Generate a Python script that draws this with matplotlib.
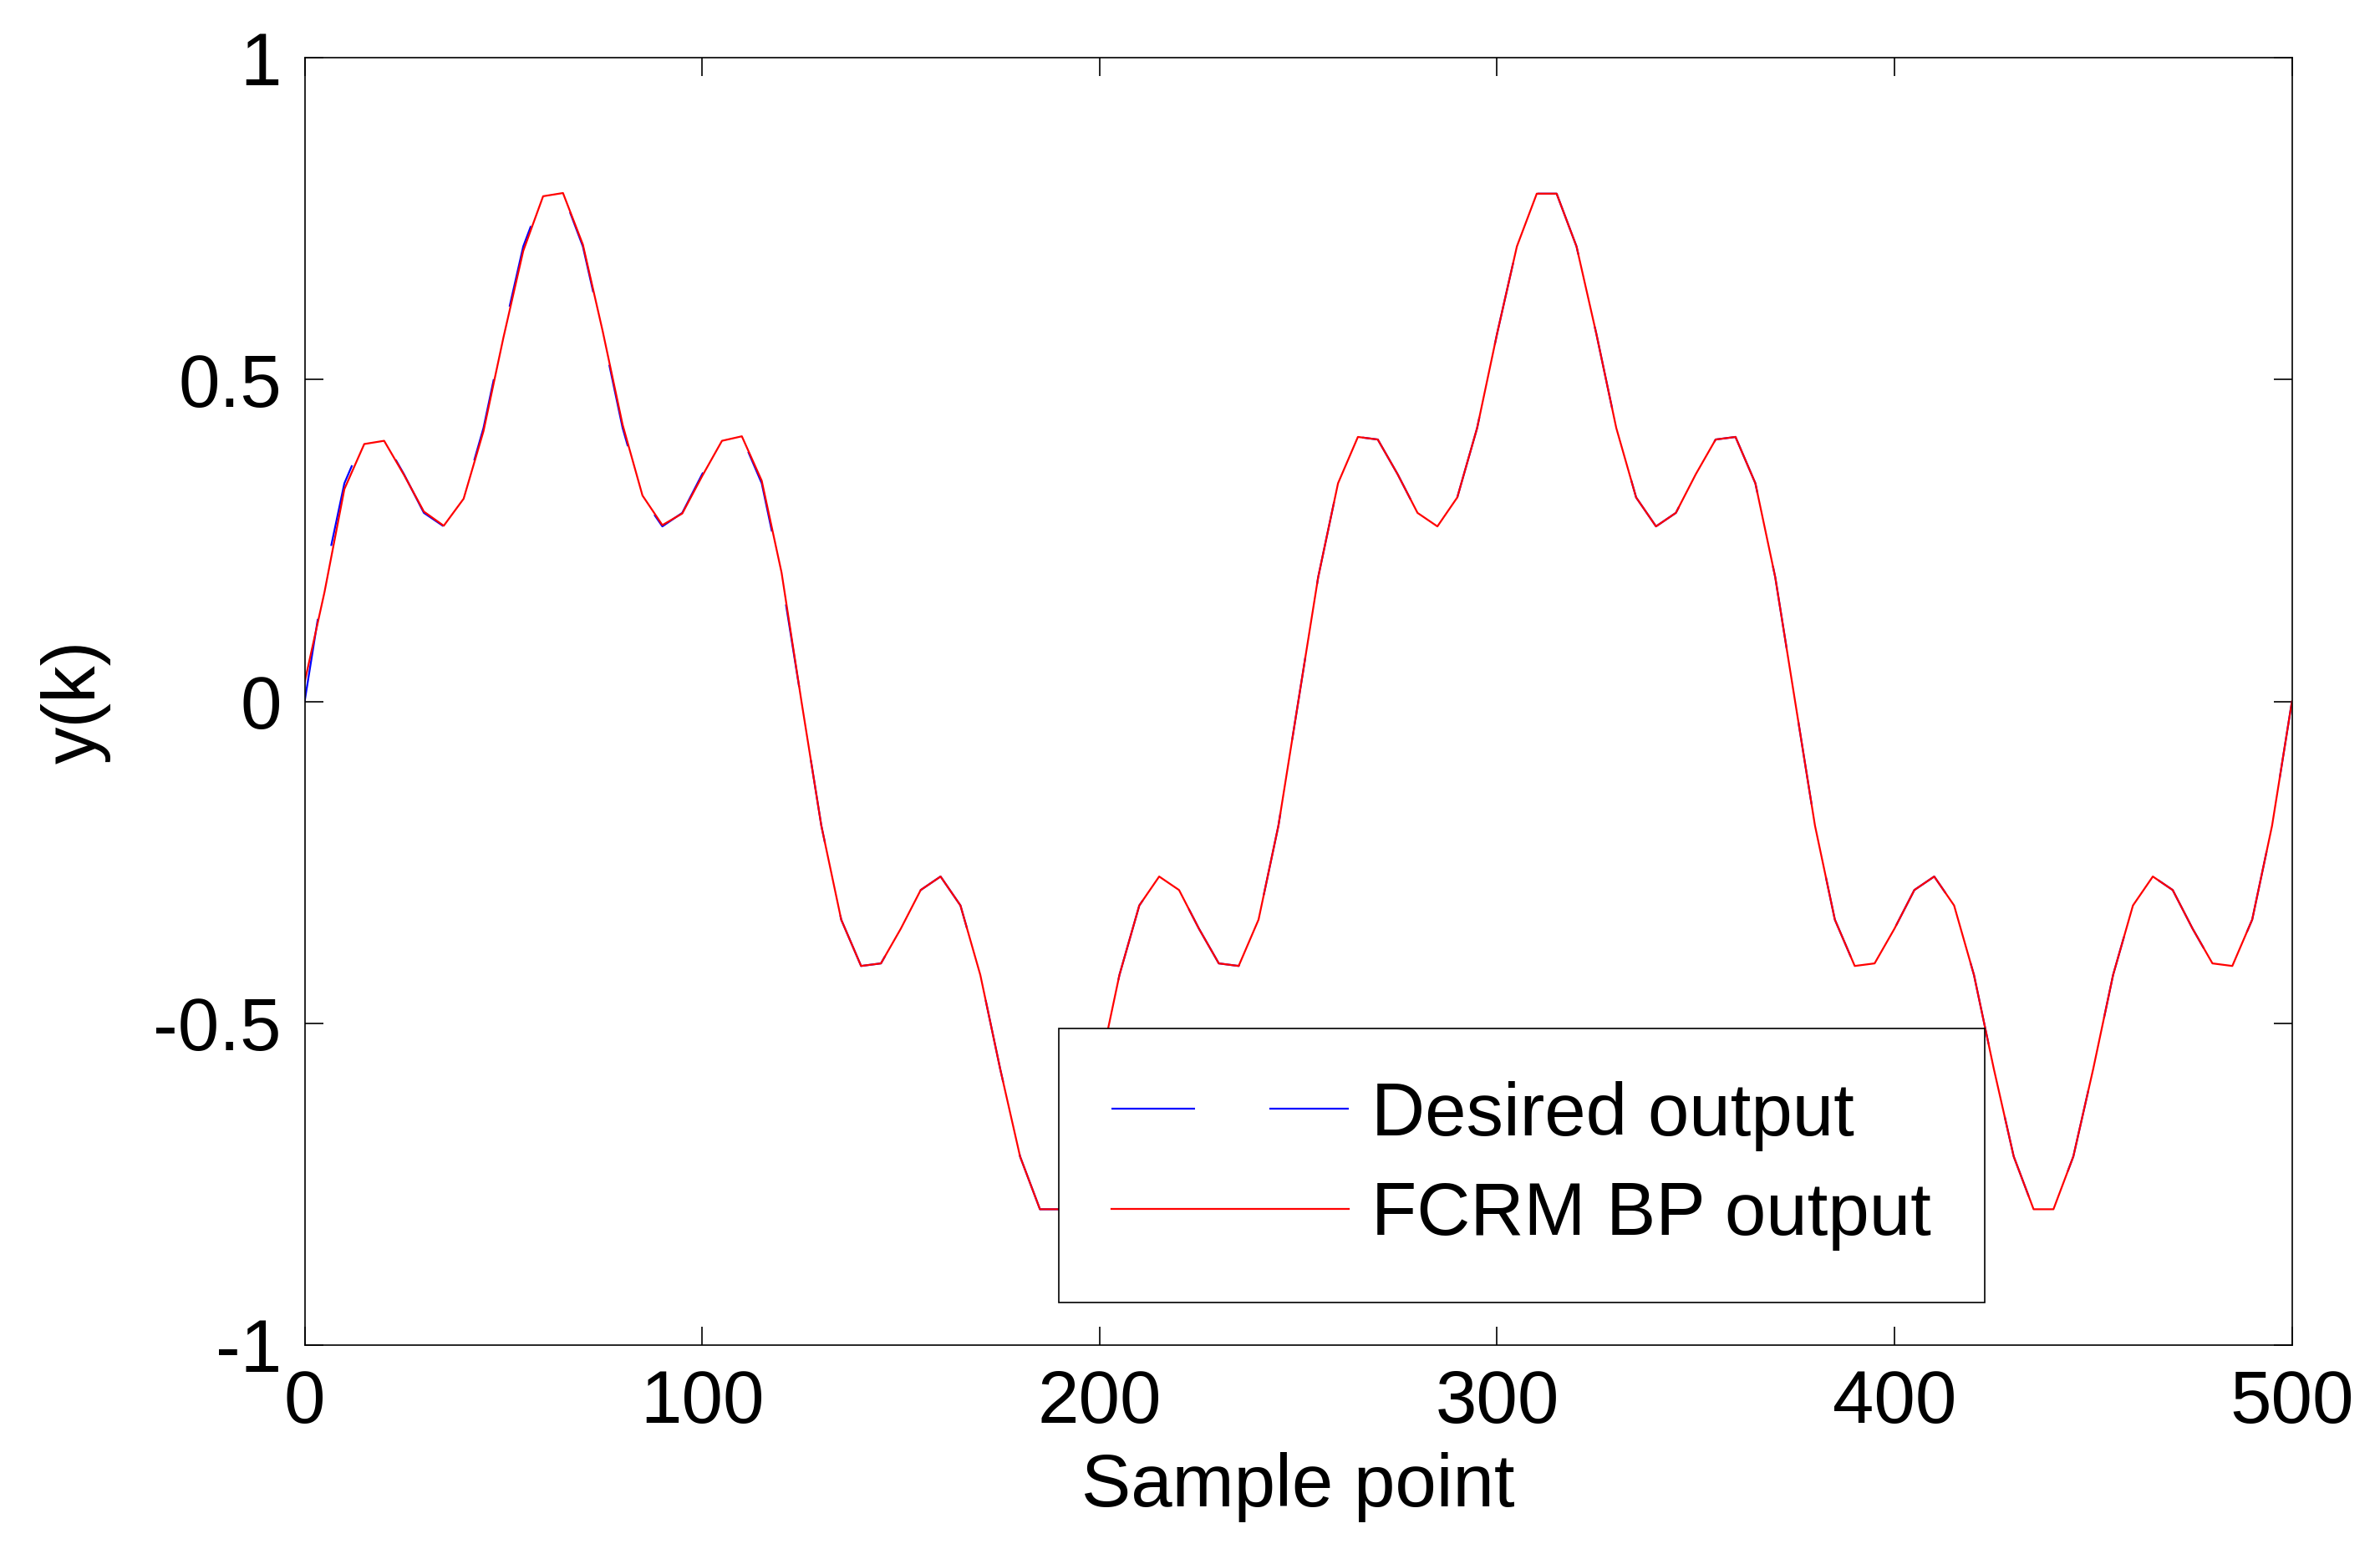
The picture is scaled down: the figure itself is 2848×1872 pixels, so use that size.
import matplotlib
matplotlib.use("Agg")
import matplotlib.pyplot as plt
import numpy as np

k = list(range(0, 505, 5))
half = [0, .193, .339, .411, .407, .353, .293, .272, .317, .425, .571, .707, .789,
        .789, .707, .571, .425, .317, .272, .293, .353, .407, .411, .339, .193]
period = half + [0.0] + [-v for v in half[1:]]  # 50 values per 250 samples
desired = period + period + [0.0]
fcrm = [0.03, .17, .33, .40, .405, .352, .295, .273, .315, .42, .565, .70, .785,
        .79, .71, .575, .43, .32, .274, .292, .35, .405, .412, .343, .20]
fcrm = fcrm + [-v for v in half] + period + [0.0]
fcrm = fcrm[:len(desired)]

plt.rcParams['font.family'] = ['Liberation Sans', 'DejaVu Sans']
fig = plt.figure(figsize=(14.24, 9.36), dpi=200)
ax = fig.add_axes([0.128, 0.14, 0.835, 0.823])
ax.plot(k, desired, color='blue', lw=0.8, dashes=(45, 40), label='Desired output')
ax.plot(k, fcrm, color='red', lw=0.8, label='FCRM BP output')
ax.set_xlim(0, 500)
ax.set_ylim(-1, 1)
ax.set_xticks([0, 100, 200, 300, 400, 500])
ax.set_yticks([-1, -0.5, 0, 0.5, 1])
ax.set_yticklabels(['-1', '-0.5', '0', '0.5', '1'])
ax.tick_params(direction='in', top=True, right=True, labelsize=32, length=8, width=0.6, pad=10)
for s in ax.spines.values():
    s.set_linewidth(0.6)
ax.set_xlabel('Sample point', fontsize=32, labelpad=6)
ax.set_ylabel('y(k)', fontsize=32, labelpad=18)
leg = fig.legend(handles=ax.get_lines(), loc='lower left', bbox_to_anchor=(0.445, 0.167, 0.389, 0.158),
                 mode='expand', fontsize=32, frameon=True, framealpha=1,
                 fancybox=False, edgecolor='black', handlelength=3.2, handletextpad=0.3,
                 borderpad=0.7, labelspacing=0.4, borderaxespad=0)
leg.get_frame().set_linewidth(0.6)
fig.savefig('out.png', dpi=200)
